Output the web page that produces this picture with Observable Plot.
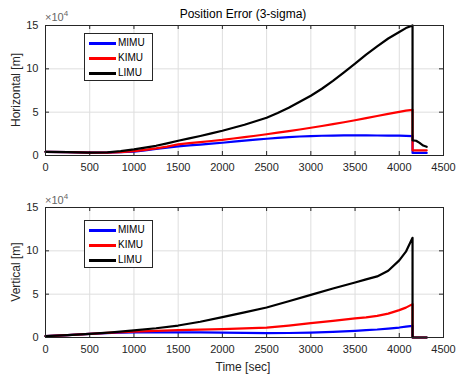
<!DOCTYPE html>
<html><head><meta charset="utf-8">
<script src="https://cdn.jsdelivr.net/npm/d3@7"></script>
<script src="https://cdn.jsdelivr.net/npm/@observablehq/plot@0.6"></script>
<style>
body{margin:0;background:#fff;font-family:"Liberation Sans",Arial,sans-serif;}
#wrap{position:relative;width:456px;height:378px;overflow:hidden;background:#fff}
.abs{position:absolute;white-space:nowrap;color:#262626}
.leg{position:absolute;background:#fff;border:1px solid #262626;width:67px;height:46px}
.leg .row{position:absolute;left:4px;height:14px;font-size:10px;line-height:14px}
.leg .sw{position:absolute;left:0;top:6px;width:27px;height:3px}
.leg .lb{position:absolute;left:29px;top:0}
.exp{font-size:11px;color:#666}
</style></head><body><div id="wrap"></div>
<script>
// Time axis (sec), horizontal panel
const tH = [0, 250, 500, 700, 850, 1000, 1125, 1250, 1375, 1500, 1625, 1750, 1875, 2000, 2125, 2250, 2375, 2500, 2625, 2750, 2875, 3000, 3125, 3250, 3375, 3500, 3625, 3750, 3875, 4000, 4075, 4150, 4150, 4190, 4230, 4270, 4310];
// Horizontal position error (x10^4 m)
const hMIMU = [0.42, 0.38, 0.33, 0.33, 0.38, 0.45, 0.6, 0.75, 0.9, 1.05, 1.16, 1.26, 1.37, 1.47, 1.59, 1.71, 1.83, 1.93, 2.03, 2.12, 2.19, 2.24, 2.28, 2.3, 2.32, 2.32, 2.32, 2.31, 2.3, 2.29, 2.27, 2.24, 0.3, 0.3, 0.3, 0.3, 0.3];
const hKIMU = [0.42, 0.38, 0.33, 0.34, 0.4, 0.5, 0.65, 0.82, 1.03, 1.28, 1.42, 1.55, 1.67, 1.8, 1.96, 2.12, 2.28, 2.45, 2.63, 2.82, 3.0, 3.2, 3.4, 3.62, 3.84, 4.07, 4.32, 4.56, 4.8, 5.03, 5.17, 5.27, 0.6, 0.6, 0.6, 0.6, 0.6];
const hLIMU = [0.42, 0.38, 0.33, 0.36, 0.5, 0.7, 0.9, 1.12, 1.4, 1.7, 1.97, 2.25, 2.55, 2.85, 3.2, 3.55, 3.95, 4.35, 4.9, 5.5, 6.2, 6.9, 7.7, 8.6, 9.6, 10.6, 11.65, 12.6, 13.5, 14.25, 14.7, 15.0, 1.75, 1.7, 1.45, 1.15, 1.0];

// Time axis (sec), vertical panel
const tV = [0, 250, 500, 750, 1000, 1250, 1500, 1750, 2000, 2250, 2500, 2750, 3000, 3250, 3500, 3625, 3750, 3875, 4000, 4075, 4150, 4150, 4310];
// Vertical position error (x10^4 m)
const vMIMU = [0.15, 0.28, 0.42, 0.52, 0.58, 0.6, 0.6, 0.59, 0.57, 0.53, 0.5, 0.52, 0.57, 0.66, 0.77, 0.84, 0.92, 1.03, 1.15, 1.25, 1.35, 0, 0];
const vKIMU = [0.15, 0.28, 0.42, 0.56, 0.68, 0.77, 0.85, 0.91, 0.97, 1.05, 1.15, 1.38, 1.66, 1.92, 2.2, 2.33, 2.5, 2.75, 3.16, 3.45, 3.85, 0, 0];
const vLIMU = [0.15, 0.28, 0.42, 0.6, 0.82, 1.07, 1.38, 1.82, 2.35, 2.9, 3.46, 4.18, 4.92, 5.65, 6.35, 6.7, 7.05, 7.7, 8.9, 9.9, 11.5, 0, 0];

const seriesNames = ["MIMU", "KIMU", "LIMU"];
const seriesColors = ["#0000ff", "#ff0000", "#000000"];
const xTicks = [0, 500, 1000, 1500, 2000, 2500, 3000, 3500, 4000, 4500];
const yTicks = [0, 5, 10, 15];

function longForm(t, arrays) {
  const rows = [];
  arrays.forEach((arr, i) => arr.forEach((v, j) => rows.push({t: t[j], v, series: seriesNames[i]})));
  return rows;
}
const dataH = longForm(tH, [hMIMU, hKIMU, hLIMU]);
const dataV = longForm(tV, [vMIMU, vKIMU, vLIMU]);

const ML = 45, MR = 13, W = 456;
function panel(data, height, mt, mb) {
  const pw = W - ML - MR, ph = height - mt - mb;
  return Plot.plot({
    width: W, height, marginLeft: ML, marginRight: MR, marginTop: mt, marginBottom: mb,
    style: {fontFamily: '"Liberation Sans",Arial,sans-serif', fontSize: "11px", color: "#262626", background: "transparent"},
    x: {domain: [0, 4500]},
    y: {domain: [0, 15]},
    color: {domain: seriesNames, range: seriesColors},
    marks: [
      Plot.gridX(xTicks, {stroke: "#dedede", strokeOpacity: 1}),
      Plot.gridY(yTicks, {stroke: "#dedede", strokeOpacity: 1}),
      Plot.axisX(xTicks, {tickSize: 0, tickPadding: 8, label: null, tickFormat: d => String(d)}),
      Plot.axisY(yTicks, {tickSize: 0, tickPadding: 7, label: null, tickFormat: d => String(d)}),
      Plot.tickX(xTicks, {x: d => d, stroke: "#262626", insetTop: ph - 4}),
      Plot.tickX(xTicks, {x: d => d, stroke: "#262626", insetBottom: ph - 4}),
      Plot.tickY(yTicks, {y: d => d, stroke: "#262626", insetRight: pw - 4}),
      Plot.tickY(yTicks, {y: d => d, stroke: "#262626", insetLeft: pw - 4}),
      Plot.line(data, {x: "t", y: "v", z: "series", stroke: "series", strokeWidth: 2.2, curve: "linear"}),
      Plot.frame({stroke: "#262626"})
    ]
  });
}

const wrap = document.getElementById("wrap");
function place(el, left, top) { el.style.position = "absolute"; el.style.left = left + "px"; el.style.top = top + "px"; wrap.appendChild(el); }

place(panel(dataH, 180, 25, 25), 0, 0);
place(panel(dataV, 198, 27, 41), 0, 180);

function text(html, left, top, css) {
  const d = document.createElement("div");
  d.className = "abs"; d.innerHTML = html;
  Object.assign(d.style, css || {});
  place(d, left, top);
  return d;
}
// title
text("Position Error (3-sigma)", 243, 7, {fontSize: "12px", transform: "translateX(-50%)", color: "#000"});
// exponents
text('<span class="exp">×10<sup style="font-size:8px">4</sup></span>', 45, 7, {});
text('<span class="exp">×10<sup style="font-size:8px">4</sup></span>', 45, 190, {});
// y labels
text("Horizontal [m]", 16, 90, {fontSize: "12px", transform: "translate(-50%,-50%) rotate(-90deg)"});
text("Vertical [m]", 16, 272, {fontSize: "12px", transform: "translate(-50%,-50%) rotate(-90deg)"});
// x label
text("Time [sec]", 243, 360, {fontSize: "12px", transform: "translateX(-50%)"});

function legend(left, top) {
  const box = document.createElement("div");
  box.className = "leg";
  seriesNames.forEach((n, i) => {
    const r = document.createElement("div");
    r.className = "row";
    r.style.top = (2 + i * 15) + "px";
    r.innerHTML = `<div class="sw" style="background:${seriesColors[i]}"></div><div class="lb">${n}</div>`;
    box.appendChild(r);
  });
  place(box, left, top);
}
legend(84, 33);
legend(84, 220);
</script>
</body></html>
